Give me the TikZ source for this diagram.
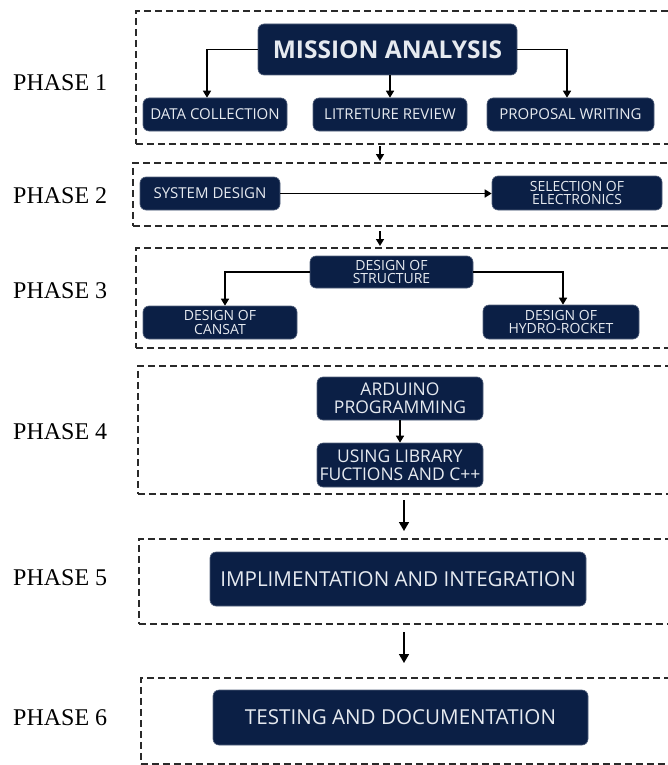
\documentclass[tikz,border=0pt]{standalone}
\usepackage{fontspec}
\setmainfont{Liberation Serif}
\newfontfamily\boxfont{Open Sans}
\usetikzlibrary{arrows.meta}
\definecolor{navy}{HTML}{0B1F45}
\definecolor{boxtext}{HTML}{E6EAF0}
\definecolor{dashgray}{HTML}{2A2A2A}
\tikzset{
  box/.style={draw=navy!70!white, line width=0.6pt, fill=navy, rounded corners=6pt, text=boxtext, align=center, inner sep=0pt, font=\boxfont\fontsize{15}{16}\selectfont},
  twoline/.style={box, font=\boxfont\fontsize{14}{13.6}\selectfont},
  midbox/.style={box, font=\boxfont\fontsize{17.5}{18}\selectfont},
  bigbox/.style={box, font=\boxfont\fontsize{20.6}{22}\selectfont},
  phasebox/.style={draw=dashgray, line width=1.8pt, dash pattern=on 7pt off 4pt, anchor=north west, inner sep=0pt},
  phaselabel/.style={font=\fontsize{24}{26}\selectfont, anchor=west, inner sep=0pt},
  arr/.style={draw=black, line width=1.6pt, -{Triangle[length=7pt,width=8pt]}},
  bigarr/.style={arr, -{Triangle[length=9pt,width=10pt]}}
}
\begin{document}
\begin{tikzpicture}[x=1pt,y=-1pt]
\useasboundingbox (0,0) rectangle (667,765);
% phase frames
\node[phasebox, minimum width=535pt, minimum height=133pt] (p1) at (135,10) {};
\node[phasebox, minimum width=538pt, minimum height=63pt] (p2) at (132,162) {};
\node[phasebox, minimum width=535pt, minimum height=100pt] (p3) at (135,247) {};
\node[phasebox, minimum width=533pt, minimum height=128pt] (p4) at (137,365) {};
\node[phasebox, minimum width=532pt, minimum height=85pt] (p5) at (138,538) {};
\node[phasebox, minimum width=530pt, minimum height=86pt] (p6) at (140,677) {};
% phase labels
\node[phaselabel] (l1) at (13,83) {PHASE 1};
\node[phaselabel] (l2) at (13,196) {PHASE 2};
\node[phaselabel] (l3) at (13,291) {PHASE 3};
\node[phaselabel] (l4) at (13,432) {PHASE 4};
\node[phaselabel] (l5) at (13,578) {PHASE 5};
\node[phaselabel] (l6) at (13,718) {PHASE 6};
% phase 1
\node[box, minimum width=259pt, minimum height=51pt, font=\boxfont\bfseries\fontsize{24.5}{26}\selectfont] (mission) at (387.5,49.5) {MISSION ANALYSIS};
\node[box, minimum width=144pt, minimum height=33pt] (data) at (215,114.5) {DATA COLLECTION};
\node[box, minimum width=154pt, minimum height=33pt] (lit) at (390,114.5) {LITRETURE REVIEW};
\node[box, minimum width=167pt, minimum height=33pt] (prop) at (570.5,114.5) {PROPOSAL WRITING};
\draw[arr] (mission.west) -| (data.north -| 207,0);
\draw[arr] (mission.south -| lit.north) -- (lit.north);
\draw[arr] (mission.east) -| (prop.north -| 567,0);
% phase 2
\node[box, minimum width=140pt, minimum height=33pt] (sys) at (210,193.5) {SYSTEM DESIGN};
\node[twoline, minimum width=170pt, minimum height=34pt] (sel) at (577,193) {SELECTION OF\\ELECTRONICS};
\draw[arr] (sys.east) -- (sys.east -| sel.west);
% phase 3
\node[twoline, minimum width=163pt, minimum height=32pt] (struct) at (391.5,272) {DESIGN OF\\STRUCTURE};
\node[twoline, minimum width=154pt, minimum height=33pt] (cansat) at (220,322.5) {DESIGN OF\\CANSAT};
\node[twoline, minimum width=156pt, minimum height=34pt] (hydro) at (561,322) {DESIGN OF\\HYDRO-ROCKET};
\draw[arr] (struct.west) -| (cansat.north -| 225,0);
\draw[arr] (struct.east) -| (hydro.north -| 563,0);
% phase 4
\node[midbox, minimum width=166pt, minimum height=43pt] (ard) at (400,398.5) {ARDUINO\\PROGRAMMING};
\node[midbox, minimum width=166pt, minimum height=44pt] (lib) at (400,465) {USING LIBRARY\\FUCTIONS AND C++};
\draw[arr] (ard.south) -- (lib.north);
% phase 5 and 6
\node[bigbox, minimum width=376pt, minimum height=54pt] (impl) at (398,579) {IMPLIMENTATION AND INTEGRATION};
\node[bigbox, minimum width=375pt, minimum height=55pt] (test) at (400.5,717.5) {TESTING AND DOCUMENTATION};
% arrows between phases
\coordinate (a1s) at (380,146); \coordinate (a1e) at (380,161);
\coordinate (a2s) at (380,231); \coordinate (a2e) at (380,246);
\coordinate (a4s) at (404,500); \coordinate (a4e) at (404,531);
\coordinate (a5s) at (404,632); \coordinate (a5e) at (404,663);
\draw[arr] (a1s) -- (a1e);
\draw[arr] (a2s) -- (a2e);
\draw[bigarr] (a4s) -- (a4e);
\draw[bigarr] (a5s) -- (a5e);
\end{tikzpicture}
\end{document}
